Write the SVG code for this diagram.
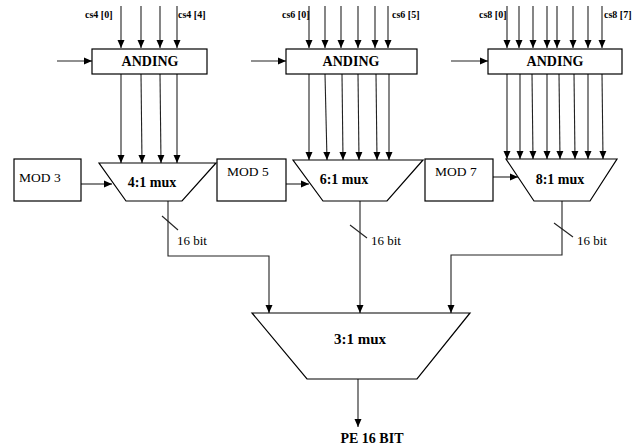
<svg xmlns="http://www.w3.org/2000/svg" width="643" height="445" viewBox="0 0 643 445">
<defs>
<marker id="ah" markerWidth="8" markerHeight="8" viewBox="0 0 8 8" refX="8" refY="4" orient="auto" markerUnits="userSpaceOnUse">
<path d="M0,0.5 L8,4 L0,7.5 Z" fill="#000"/>
</marker>
<style>
.box{fill:#fff;stroke:#000;stroke-width:1.2}
.ln{fill:none;stroke:#222;stroke-width:1.1}
.ar{fill:none;stroke:#222;stroke-width:1.1;marker-end:url(#ah)}
.bt{font-family:"Liberation Serif","Times New Roman",serif;font-weight:bold;font-size:14px;text-anchor:middle}
.cs{font-family:"Liberation Serif","Times New Roman",serif;font-weight:bold;font-size:10px}
.rt{font-family:"Liberation Serif","Times New Roman",serif;font-size:13.5px}
.sm{font-family:"Liberation Serif","Times New Roman",serif;font-size:13px}
</style>
</defs>
<rect width="643" height="445" fill="#fff"/>
<g id="connectors">
<line class="ar" x1="121" y1="6" x2="121" y2="48"/>
<line class="ar" x1="141" y1="6" x2="141" y2="48"/>
<line class="ar" x1="160" y1="6" x2="160" y2="48"/>
<line class="ar" x1="177" y1="6" x2="177" y2="48"/>
<line class="ar" x1="57" y1="61" x2="92" y2="61"/>
<line class="ar" x1="309" y1="6" x2="309" y2="48"/>
<line class="ar" x1="325" y1="6" x2="325" y2="48"/>
<line class="ar" x1="341" y1="6" x2="341" y2="48"/>
<line class="ar" x1="358" y1="6" x2="358" y2="48"/>
<line class="ar" x1="375" y1="6" x2="375" y2="48"/>
<line class="ar" x1="388" y1="6" x2="388" y2="48"/>
<line class="ar" x1="251" y1="61" x2="286" y2="61"/>
<line class="ar" x1="507" y1="6" x2="507" y2="48"/>
<line class="ar" x1="519" y1="6" x2="519" y2="48"/>
<line class="ar" x1="533" y1="6" x2="533" y2="48"/>
<line class="ar" x1="547" y1="6" x2="547" y2="48"/>
<line class="ar" x1="557" y1="6" x2="557" y2="48"/>
<line class="ar" x1="573" y1="6" x2="573" y2="48"/>
<line class="ar" x1="588" y1="6" x2="588" y2="48"/>
<line class="ar" x1="602" y1="6" x2="602" y2="48"/>
<line class="ar" x1="451" y1="61" x2="488" y2="61"/>
<line class="ar" x1="121" y1="74" x2="121" y2="163"/>
<line class="ar" x1="141" y1="74" x2="142" y2="163"/>
<line class="ar" x1="160" y1="74" x2="161" y2="163"/>
<line class="ar" x1="177" y1="74" x2="177" y2="163"/>
<line class="ar" x1="309" y1="74" x2="309" y2="160"/>
<line class="ar" x1="325" y1="74" x2="327" y2="160"/>
<line class="ar" x1="342" y1="74" x2="343" y2="160"/>
<line class="ar" x1="358" y1="74" x2="359" y2="160"/>
<line class="ar" x1="376" y1="74" x2="377" y2="160"/>
<line class="ar" x1="389" y1="74" x2="389" y2="160"/>
<line class="ar" x1="507" y1="74" x2="507" y2="159"/>
<line class="ar" x1="520" y1="74" x2="520" y2="159"/>
<line class="ar" x1="532" y1="74" x2="533" y2="159"/>
<line class="ar" x1="547" y1="74" x2="547" y2="159"/>
<line class="ar" x1="559" y1="74" x2="560" y2="159"/>
<line class="ar" x1="574" y1="74" x2="575" y2="159"/>
<line class="ar" x1="588" y1="74" x2="588" y2="159"/>
<line class="ar" x1="602" y1="74" x2="603" y2="159"/>
<line class="ar" x1="81" y1="184" x2="112" y2="184"/>
<line class="ar" x1="286" y1="184" x2="309" y2="184"/>
<line class="ar" x1="493" y1="177" x2="518" y2="177"/>
<polyline class="ar" points="168,201 168,256 269,256 269,313"/>
<line class="ar" x1="360" y1="201" x2="360" y2="313"/>
<polyline class="ar" points="562,201 562,255 451,255 451,313"/>
<line class="ln" x1="162" y1="216" x2="178" y2="230"/>
<line class="ln" x1="350" y1="225" x2="367" y2="238"/>
<line class="ln" x1="554" y1="223" x2="573" y2="237"/>
<line class="ar" x1="358" y1="379" x2="358" y2="427"/>
</g>
<g id="anding1"><rect class="box" x="92" y="49" width="115" height="25"/><text class="bt" x="150" y="66">ANDING</text></g>
<g id="anding2"><rect class="box" x="286" y="49" width="131" height="25"/><text class="bt" x="351" y="66">ANDING</text></g>
<g id="anding3"><rect class="box" x="488" y="49" width="134" height="25"/><text class="bt" x="555" y="66">ANDING</text></g>
<g id="labels-cs">
<text class="cs" x="85" y="18">cs4 [0]</text>
<text class="cs" x="178" y="18">cs4 [4]</text>
<text class="cs" x="282" y="18">cs6 [0]</text>
<text class="cs" x="392" y="18">cs6 [5]</text>
<text class="cs" x="479" y="18">cs8 [0]</text>
<text class="cs" x="604" y="18">cs8 [7]</text>
</g>
<g id="mod3"><rect class="box" x="14" y="159" width="67" height="42"/><text class="rt" x="19" y="182">MOD 3</text></g>
<g id="mod5"><rect class="box" x="217" y="159" width="69" height="42"/><text class="rt" x="227" y="176">MOD 5</text></g>
<g id="mod7"><rect class="box" x="425" y="159" width="68" height="42"/><text class="rt" x="435" y="176">MOD 7</text></g>
<g id="mux4"><polygon class="box" points="99,163 216,163 182,201 126,201"/><text class="bt" x="152" y="187">4:1 mux</text></g>
<g id="mux6"><polygon class="box" points="293,160 423,160 387,201 323,201"/><text class="bt" x="344" y="184">6:1 mux</text></g>
<g id="mux8"><polygon class="box" points="506,159 617,159 590,201 534,201"/><text class="bt" x="560" y="184">8:1 mux</text></g>
<g id="mux3"><polygon class="box" points="252,313 470,313 417,379 307,379"/><text class="bt" x="360" y="344" style="font-size:15px">3:1 mux</text></g>
<g id="bits">
<text class="sm" x="177" y="245">16 bit</text>
<text class="sm" x="371" y="245">16 bit</text>
<text class="sm" x="577" y="245">16 bit</text>
</g>
<g id="pe"><text class="bt" x="372" y="443">PE 16 BIT</text></g>
</svg>
